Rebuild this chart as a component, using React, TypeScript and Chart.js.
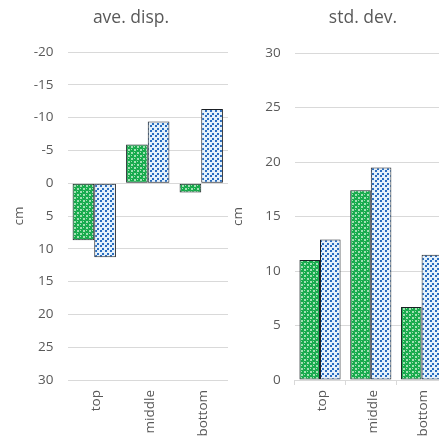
import React, { useEffect, useRef } from "react";
import { Chart, registerables } from "chart.js";
Chart.register(...registerables);

const categories = ["top", "middle", "bottom"];
const aveDispGreen = [8.7, -5.9, 1.4];
const aveDispBlue = [11.3, -9.4, -11.3];
const stdDevGreen = [11.0, 17.4, 6.7];
const stdDevBlue = [12.9, 19.5, 11.5];
const aveDispRange = { min: -20, max: 30, step: 5 };
const stdDevRange = { min: 0, max: 30, step: 5 };

const FONT = "'Open Sans'";
const TEXT = "#595959";
const GRID = "#d9d9d9";

function greenPattern(): CanvasPattern | string {
  const c = document.createElement("canvas");
  c.width = 6;
  c.height = 6;
  const g = c.getContext("2d");
  if (!g) return "#2aa84f";
  g.fillStyle = "#d3f1d9";
  g.fillRect(0, 0, 6, 6);
  g.fillStyle = "#17aa4c";
  const pts = [[3, 3], [0, 0], [6, 0], [0, 6], [6, 6]];
  for (const [x, y] of pts) {
    g.beginPath();
    g.arc(x, y, 2.3, 0, Math.PI * 2);
    g.fill();
  }
  g.fillStyle = "#9fe3b0";
  g.fillRect(2, 2, 1, 1);
  g.fillRect(5, 5, 1, 1);
  const p = g.createPattern(c, "repeat");
  return p || "#2aa84f";
}

function bluePattern(): CanvasPattern | string {
  const c = document.createElement("canvas");
  c.width = 5;
  c.height = 5;
  const g = c.getContext("2d");
  if (!g) return "#9cc4ea";
  g.fillStyle = "#e4f1fb";
  g.fillRect(0, 0, 5, 5);
  g.fillStyle = "#2a6ec0";
  g.fillRect(0, 0, 2, 2);
  g.fillRect(2, 3, 2, 2);
  const p = g.createPattern(c, "repeat");
  return p || "#9cc4ea";
}

// draws category labels rotated -90deg (reading bottom to top) under the x axis
const upLabels = {
  id: "upLabels",
  afterDraw(chart: any, _args: any, opts: any) {
    const x = chart.scales.x;
    const ctx = chart.ctx;
    ctx.save();
    ctx.fillStyle = TEXT;
    ctx.font = `13.5px ${FONT}`;
    ctx.textAlign = "right";
    ctx.textBaseline = "middle";
    const labels: string[] = chart.data.labels;
    labels.forEach((lab, i) => {
      const px = x.getPixelForTick(i) + 2;
      ctx.save();
      ctx.translate(px, x.top + opts.gap);
      ctx.rotate(-Math.PI / 2);
      ctx.fillText(lab, 0, 0);
      ctx.restore();
    });
    ctx.restore();
  },
};

function makeConfig(
  title: string,
  green: number[],
  blue: number[],
  range: { min: number; max: number; step: number },
  reverse: boolean,
  yWidth: number,
  rightWidth: number,
  titleBottom: number,
  yTitlePad: number,
  showAxisTicks: boolean
): any {
  const gp = greenPattern();
  const bp = bluePattern();
  const common = {
    borderColor: "#1b1f24",
    borderWidth: 1,
    borderSkipped: false,
    categoryPercentage: 0.81,
    barPercentage: 1.0,
  };
  return {
    type: "bar",
    data: {
      labels: categories,
      datasets: [
        { label: "green", data: green, backgroundColor: gp, ...common },
        { label: "blue", data: blue, backgroundColor: bp, ...common },
      ],
    },
    plugins: [upLabels],
    options: {
      responsive: false,
      animation: false,
      devicePixelRatio: 1,
      layout: { padding: 0 },
      plugins: {
        legend: { display: false },
        tooltip: { enabled: false },
        upLabels: { gap: 10 },
        title: {
          display: true,
          text: title,
          color: TEXT,
          font: { family: FONT, size: 17.5, weight: "normal" },
          padding: { top: 8, bottom: titleBottom },
        },
      },
      scales: {
        x: {
          grid: showAxisTicks
            ? {
                display: true,
                drawOnChartArea: false,
                drawTicks: true,
                tickLength: 5,
                color: GRID,
                offset: true,
              }
            : { display: false },
          border: { display: showAxisTicks, color: GRID },
          ticks: { display: false },
          afterFit: (s: any) => {
            s.height = 57;
          },
        },
        y: {
          reverse,
          min: range.min,
          max: range.max,
          ticks: {
            stepSize: range.step,
            padding: 14,
            color: TEXT,
            font: { family: FONT, size: 13.5 },
          },
          grid: { color: GRID, drawTicks: false, lineWidth: 1 },
          border: { display: false },
          title: {
            display: true,
            text: "cm",
            color: TEXT,
            font: { family: FONT, size: 13.5 },
            padding: { top: yTitlePad, bottom: 0 },
          },
          afterFit: (s: any) => {
            s.width = yWidth;
          },
        },
        spacer: {
          type: "linear",
          position: "right",
          display: true,
          min: 0,
          max: 1,
          grid: { display: false },
          border: { display: false },
          ticks: { display: false },
          afterFit: (s: any) => {
            s.width = rightWidth;
          },
        },
      },
    },
  };
}

function BarPanel(props: { left: number; width: number; cfg: () => any }) {
  const ref = useRef<HTMLCanvasElement | null>(null);
  useEffect(() => {
    if (!ref.current) return;
    const chart = new Chart(ref.current, props.cfg());
    return () => chart.destroy();
  }, []);
  return (
    <canvas
      ref={ref}
      width={props.width}
      height={437}
      style={{
        position: "absolute",
        left: props.left,
        top: 0,
        width: props.width,
        height: 437,
      }}
    />
  );
}

export default function App() {
  return (
    <div
      style={{
        position: "fixed",
        left: 0,
        top: 0,
        width: 439,
        height: 437,
        overflow: "hidden",
        background: "#ffffff",
      }}
    >
      <BarPanel
        left={0}
        width={262}
        cfg={() =>
          makeConfig("ave. disp.", aveDispGreen, aveDispBlue, aveDispRange, true, 67.5, 34, 23, 11, false)
        }
      />
      <BarPanel
        left={230}
        width={266}
        cfg={() =>
          makeConfig("std. dev.", stdDevGreen, stdDevBlue, stdDevRange, false, 64.6, 49, 24, 0, true)
        }
      />
    </div>
  );
}
